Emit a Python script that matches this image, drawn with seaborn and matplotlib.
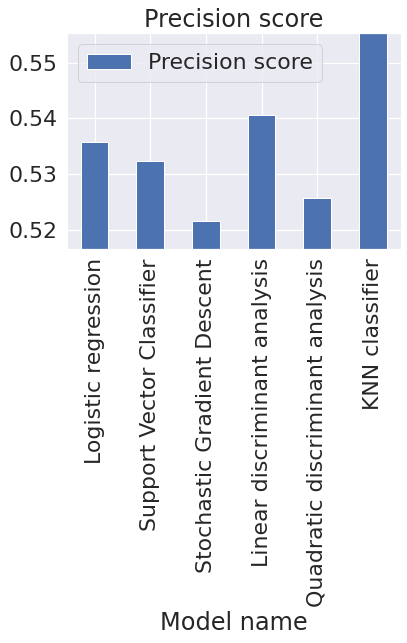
import pandas as pd
import matplotlib
matplotlib.use("Agg")
import matplotlib.pyplot as plt
import seaborn as sns

# Model names and their precision scores
models = ["Logistic regression", "Support Vector Classifier",
          "Stochastic Gradient Descent", "Linear discriminant analysis",
          "Quadratic discriminant analysis", "KNN classifier"]
precision = [0.5358, 0.5324, 0.5216, 0.5406, 0.5257, 0.5553]

df = pd.DataFrame({"Model name": models, "Precision score": precision})

sns.set(font_scale=2)

fig = plt.figure(figsize=(407 / 72, 643 / 72), dpi=72)
ax = fig.add_axes([66.7 / 407, 1 - 248.7 / 643, 334 / 407, 215.4 / 643])
sns.barplot(data=df, x="Model name", y="Precision score", color="#4c72b0",
            saturation=1, width=0.5, edgecolor="white", linewidth=1,
            label="Precision score", ax=ax)
ax.set_ylim(min(precision) - 0.005, max(precision))
ax.set_title("Precision score")
ax.set_ylabel("")
ax.set_xlabel("Model name")
plt.xticks(rotation=90)
ax.legend(loc="upper left")
# seaborn switches off the grid on the categorical axis; bring it back
ax.set_axisbelow(True)
ax.xaxis.grid(True, which="major", color="white", linewidth=1.25)
ax.yaxis.grid(True, which="major", color="white", linewidth=1.25)
fig.savefig("out.png", dpi=72)
